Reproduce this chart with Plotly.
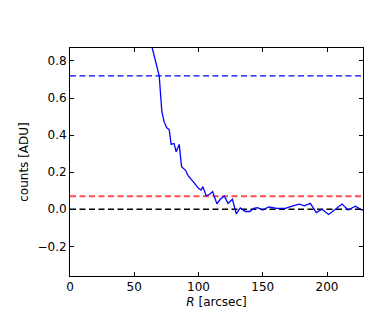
import plotly.graph_objects as go

R = [62, 64, 69.4, 71.5, 73.3, 75.3, 77.2, 78.7, 81, 82.6, 85, 86.8, 89.9, 92, 96, 100, 102,
     103.4, 106, 108.6, 111, 114.3, 117, 120, 123, 126.4, 129.4, 132.5, 136.4, 140, 143,
     146, 150, 154.6, 161, 167.6, 172.8, 178.5, 182.4, 187, 191.7, 196, 201.3, 206.5,
     211.7, 216.4, 222, 227.3, 230]
counts = [0.95, 0.87, 0.72, 0.526, 0.47, 0.44, 0.43, 0.35, 0.355, 0.31, 0.35, 0.23, 0.21,
          0.18, 0.148, 0.113, 0.104, 0.122, 0.072, 0.081, 0.095, 0.029, 0.054, 0.072, 0.032,
          0.054, -0.025, 0.007, -0.012, -0.012, 0.005, 0.009, -0.004, 0.012, 0.005, 0.005,
          0.017, 0.028, 0.019, 0.032, -0.018, 0.0, -0.028, 0.0, 0.028, -0.004, 0.017,
          -0.004, 0.0]

hlines = [0.72, 0.07, 0.0]
hline_colors = ["#0000ff", "#ff4d4d", "#000000"]
hline_widths = [1.3, 2.0, 1.4]

x_range = [0, 228]
y_range = [-0.36, 0.87]
x_ticks = [0, 50, 100, 150, 200]
y_ticks = [-0.2, 0.0, 0.2, 0.4, 0.6, 0.8]
y_tick_text = ["\u22120.2", "0.0", "0.2", "0.4", "0.6", "0.8"]

fig = go.Figure()
for yv, c, w in zip(hlines, hline_colors, hline_widths):
    fig.add_trace(go.Scatter(x=x_range, y=[yv, yv], mode="lines",
                             line=dict(color=c, width=w, dash="6px,3.5px"),
                             hoverinfo="skip", showlegend=False))
fig.add_trace(go.Scatter(x=R, y=counts, mode="lines",
                         line=dict(color="#0000ff", width=1.3), showlegend=False))

axis_common = dict(showgrid=False, zeroline=False, showline=True, linecolor="black",
                   linewidth=1, mirror="ticks", ticks="inside", ticklen=4,
                   tickcolor="black", tickfont=dict(family="DejaVu Sans", size=12, color="black"))
fig.update_xaxes(range=x_range, tickvals=x_ticks, **axis_common,
                 title=dict(text="<i>R</i> [arcsec]", standoff=4,
                            font=dict(family="DejaVu Sans", size=12, color="black")))
fig.update_yaxes(range=y_range, tickvals=y_ticks, ticktext=y_tick_text, **axis_common,
                 title=dict(text="counts [ADU]", standoff=6,
                            font=dict(family="DejaVu Sans", size=12, color="black")))
fig.update_layout(width=390, height=325, margin=dict(l=70, r=27, t=48, b=49),
                  paper_bgcolor="white", plot_bgcolor="white",
                  font=dict(family="DejaVu Sans", size=12, color="black"))
fig.write_html("out.html", config={"displayModeBar": False},
               post_script="document.body.style.margin='0';")
